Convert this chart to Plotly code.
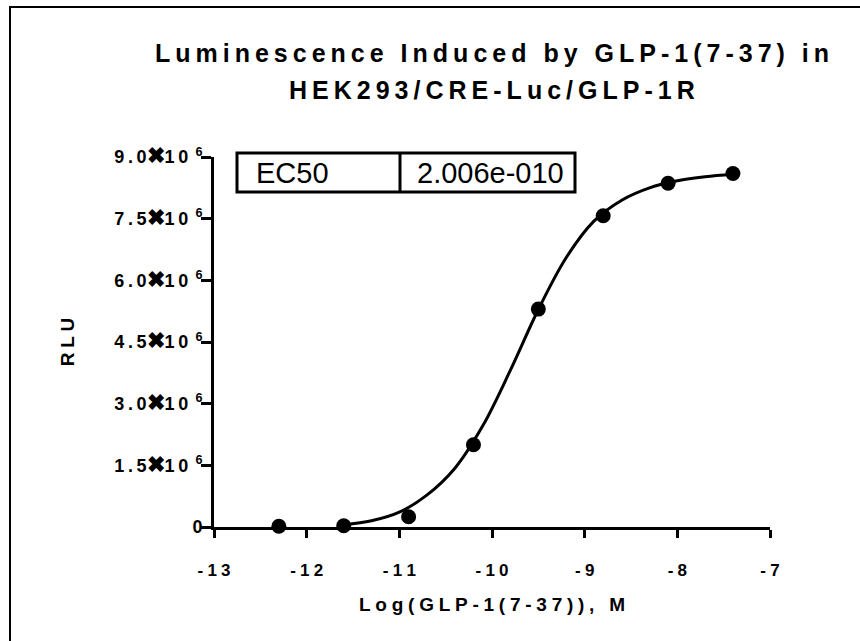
import plotly.graph_objects as go

# ---- data ----
log_conc = [-12.3, -11.6, -10.9, -10.2, -9.5, -8.8, -8.1, -7.4]
rlu = [0.02e6, 0.03e6, 0.25e6, 2.0e6, 5.3e6, 7.57e6, 8.36e6, 8.60e6]

# fitted curve
curve_x = [-11.6, -11.3, -11.0, -10.7, -10.4, -10.1, -9.8, -9.5, -9.2, -8.9, -8.6, -8.3, -8.0, -7.7, -7.4]
curve_y = [0.05e6, 0.15e6, 0.36e6, 0.78e6, 1.43e6, 2.46e6, 3.82e6, 5.29e6, 6.55e6, 7.44e6, 7.95e6, 8.25e6, 8.42e6, 8.52e6, 8.58e6]

x_tickvals = [-13, -12, -11, -10, -9, -8, -7]
x_ticklabels = ["-13", "-12", "-11", "-10", "-9", "-8", "-7"]
y_tickvals = [0, 1.5e6, 3.0e6, 4.5e6, 6.0e6, 7.5e6, 9.0e6]
y_mantissas = ["0", "1.5", "3.0", "4.5", "6.0", "7.5", "9.0"]

title_line1 = "Luminescence Induced by GLP-1(7-37) in"
title_line2 = "HEK293/CRE-Luc/GLP-1R"
x_title = "Log(GLP-1(7-37)), M"
y_title = "RLU"
ec50_label = "EC50"
ec50_value = "2.006e-010"

TS = "\u2009"   # thin space
QS = "\u2005"   # four-per-em space


def spaced(s, sep=TS):
    return sep.join(s)


def ylabel(m):
    if m == "0":
        return "0"
    return (spaced(m) + "<span style='font-size:22px'>\u2716</span>"
            + spaced("10") + TS + TS + "<sup>6</sup>")


FONT = "Liberation Sans, Arial, sans-serif"

fig = go.Figure()
fig.add_trace(go.Scatter(
    x=curve_x, y=curve_y, mode="lines",
    line=dict(color="black", width=3, shape="spline"),
    hoverinfo="skip", showlegend=False, cliponaxis=False,
))
fig.add_trace(go.Scatter(
    x=log_conc, y=rlu, mode="markers",
    marker=dict(color="black", size=15),
    showlegend=False, cliponaxis=False,
))

W, H = 860, 641
L, R, T, B = 214, 90, 157, 114
PW, PH = W - L - R, H - T - B


def px(xp):
    return (xp - L) / PW


def py(yp):
    return (H - B - yp) / PH


fig.update_layout(
    width=W, height=H,
    margin=dict(l=L, r=R, t=T, b=B, autoexpand=False),
    paper_bgcolor="white", plot_bgcolor="white",
    font=dict(family=FONT, color="black"),
    title=dict(
        text=spaced(title_line1),
        x=0.5, xref="paper", xanchor="center",
        y=1 - 53 / H, yref="container", yanchor="middle",
        font=dict(size=25, weight="bold", color="black", family=FONT),
    ),
    xaxis=dict(
        range=[-13, -7], tickvals=x_tickvals,
        ticktext=[spaced(t, QS) for t in x_ticklabels],
        ticks="outside", ticklen=8, tickwidth=3, tickcolor="black",
        ticklabelstandoff=18,
        showline=True, linewidth=3, linecolor="black",
        showgrid=False, zeroline=False,
        tickfont=dict(size=17, weight="bold", family=FONT),
        title=dict(text=spaced(x_title, QS), standoff=19,
                   font=dict(size=19, weight="bold", family=FONT)),
        automargin=False,
    ),
    yaxis=dict(
        range=[0, 9e6], tickvals=y_tickvals,
        ticktext=[ylabel(m) for m in y_mantissas],
        ticks="outside", ticklen=10, tickwidth=3, tickcolor="black",
        ticklabelstandoff=-5,
        showline=True, linewidth=3, linecolor="black",
        showgrid=False, zeroline=False,
        tickfont=dict(size=18, weight="bold", family=FONT),
        title=dict(text=spaced(y_title, QS), standoff=35,
                   font=dict(size=19, weight="bold", family=FONT)),
        automargin=False,
    ),
    shapes=[
        # outer frame
        dict(type="rect", xref="paper", yref="paper",
             x0=px(10), x1=px(872), y0=py(652), y1=py(7),
             line=dict(color="black", width=2), fillcolor="rgba(0,0,0,0)"),
        # EC50 table box
        dict(type="rect", xref="paper", yref="paper",
             x0=px(237), x1=px(575), y0=py(192), y1=py(153),
             line=dict(color="black", width=3), fillcolor="white"),
        dict(type="line", xref="paper", yref="paper",
             x0=px(400), x1=px(400), y0=py(192), y1=py(153),
             line=dict(color="black", width=3)),
    ],
    annotations=[
        dict(text=spaced(title_line2), xref="paper", yref="paper",
             x=0.5, y=py(90), xanchor="center", yanchor="middle",
             showarrow=False,
             font=dict(size=25, weight="bold", family=FONT, color="black")),
        dict(text=ec50_label, xref="paper", yref="paper",
             x=px(254), y=py(173), xanchor="left", yanchor="middle",
             showarrow=False, font=dict(size=29, family=FONT, color="black")),
        dict(text=ec50_value, xref="paper", yref="paper",
             x=px(415), y=py(173), xanchor="left", yanchor="middle",
             showarrow=False, font=dict(size=29, family=FONT, color="black")),
    ],
)

fig.write_html(
    "out.html",
    config={"displayModeBar": False},
    post_script="document.body.style.margin='0';document.body.style.padding='0';",
)
